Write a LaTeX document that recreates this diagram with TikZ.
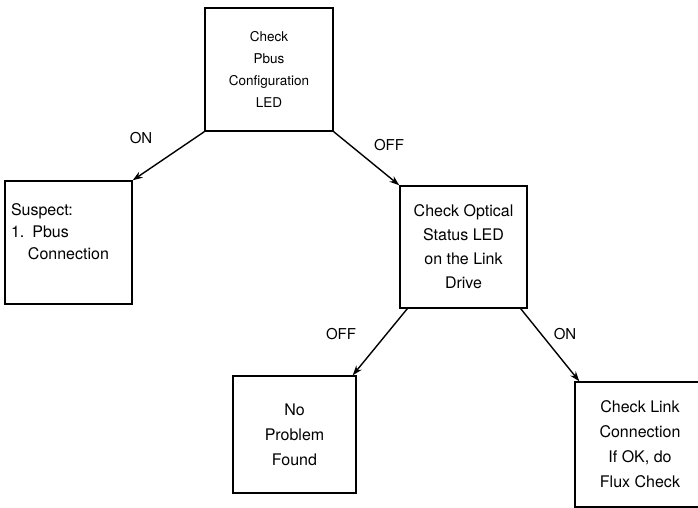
\documentclass[tikz,border=0pt]{standalone}
\usepackage{fontspec}
\setmainfont{TeX Gyre Heros}
\usetikzlibrary{arrows.meta}
\begin{document}
\begin{tikzpicture}[x=1pt,y=-1pt,
    box/.style={draw,line width=1.4pt,minimum width=127pt,minimum height=123pt,inner sep=0pt,align=center,font=\fontsize{16}{24}\selectfont},
    lbl/.style={font=\fontsize{15}{18}\selectfont},
    arr/.style={line width=1.4pt,-{Stealth[length=10pt,width=7pt]}}]
    \useasboundingbox (0,0) rectangle (698,508);
    \clip (0,0) rectangle (698,508);

    \node[box,minimum width=128pt,font=\fontsize{13.5}{22}\selectfont] (pbus) at (269,69.5) {Check\\Pbus\\Configuration\\LED};
    \node[box,align=left,text width=115pt,font=\fontsize{16}{22}\selectfont] (susp) at (68.5,242.5) {Suspect:\\1. Pbus\\\hspace*{17pt}Connection\\\mbox{}};
    \node[box,minimum height=122pt] (opt) at (463.5,247) {Check Optical\\Status LED\\on the Link\\Drive};
    \node[box,minimum width=123pt,minimum height=117pt,font=\fontsize{16}{25}\selectfont] (none) at (294.5,434.5) {No\\Problem\\Found};
    \node[box,minimum width=130pt,minimum height=125pt,font=\fontsize{16}{25}\selectfont] (link) at (640,444.5) {Check Link\\Connection\\If OK, do\\Flux Check};

    \draw[arr] (pbus.south west) -- (susp.north east);
    \draw[arr] (pbus.south east) -- (opt.north west);
    \draw[arr] ([xshift=8pt]opt.south west) -- ([xshift=-4pt]none.north east);
    \draw[arr] ([xshift=-7pt]opt.south east) -- ([xshift=5pt]link.north west);

    \node[lbl] (on1) at (141,138) {ON};
    \node[lbl] (off1) at (389,145) {OFF};
    \node[lbl] (off2) at (341,334) {OFF};
    \node[lbl] (on2) at (565,334) {ON};
\end{tikzpicture}
\end{document}
